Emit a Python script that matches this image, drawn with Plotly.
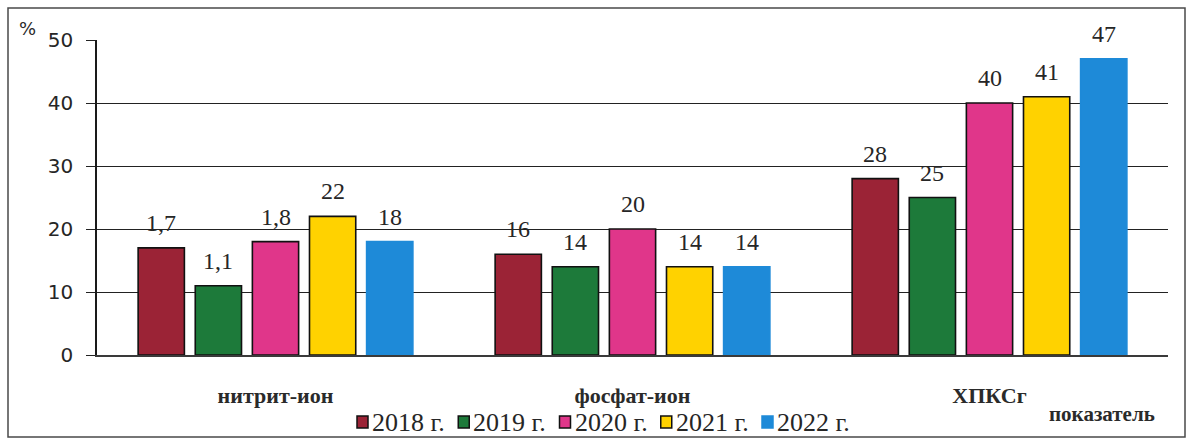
import plotly.graph_objects as go

# Indicators on the x axis and the years shown as bar series
categories = ["нитрит-ион", "фосфат-ион", "ХПКСг"]
years = ["2018 г.", "2019 г.", "2020 г.", "2021 г.", "2022 г."]

# Share of samples, % (one list per year, in category order)
v2018 = [17, 16, 28]
v2019 = [11, 14, 25]
v2020 = [18, 20, 40]
v2021 = [22, 14, 41]
v2022 = [18, 14, 47]

# Data labels as printed above the bars
t2018 = ["1,7", "16", "28"]
t2019 = ["1,1", "14", "25"]
t2020 = ["1,8", "20", "40"]
t2021 = ["22", "14", "41"]
t2022 = ["18", "14", "47"]

y_ticks = [0, 10, 20, 30, 40, 50]

series_values = [v2018, v2019, v2020, v2021, v2022]
series_texts = [t2018, t2019, t2020, t2021, t2022]
colors = ["#9b2336", "#1d7a3a", "#e0368a", "#ffd200", "#1e8ad8"]
edges = ["#111111", "#111111", "#111111", "#111111", "#1e8ad8"]

SERIF = "Liberation Serif, Times New Roman, serif"
SANS = "DejaVu Sans, Verdana, sans-serif"

# Plot-area geometry in pixels (used to place paper-referenced decorations)
W, H = 1189, 440
L, R, T, B = 97, 21, 40, 85
PW, PH = W - L - R, H - T - B


def px(x):
    return (x - L) / PW


def py(y):
    return (H - B - y) / PH


BARGAP = 0.2
BARGROUPGAP = 0.19
n = len(years)
slot = (1 - BARGAP) / n

fig = go.Figure()
for j, (name, vals) in enumerate(zip(years, series_values)):
    fig.add_trace(go.Bar(
        x=categories, y=vals, name=name,
        marker=dict(color=colors[j], line=dict(color=edges[j], width=1.6)),
        showlegend=False,
    ))

annotations = []
# value labels above each bar
for j, (vals, texts) in enumerate(zip(series_values, series_texts)):
    for i, (v, t) in enumerate(zip(vals, texts)):
        annotations.append(dict(
            x=i + (j - (n - 1) / 2) * slot, y=v, xref="x", yref="y",
            text=t, showarrow=False, yanchor="middle", yshift=25,
            font=dict(family=SERIF, size=24, color="#262626"),
        ))

# "%" unit mark next to the top tick
annotations.append(dict(
    x=px(27), y=py(29), xref="paper", yref="paper", text="%",
    showarrow=False, xanchor="center", yanchor="middle",
    font=dict(family=SANS, size=18, color="#2a2a2a"),
))

# axis caption at the lower right
annotations.append(dict(
    x=px(1102), y=py(414), xref="paper", yref="paper", text="<b>показатель</b>",
    showarrow=False, xanchor="center", yanchor="middle",
    font=dict(family=SERIF, size=21, color="#2a2a2a"),
))

# hand-drawn legend row: small square swatch followed by the year
shapes = []
leg_x0, leg_pitch, leg_y = 357, 101.25, 422
for j, name in enumerate(years):
    sx = leg_x0 + j * leg_pitch
    shapes.append(dict(
        type="rect", xref="paper", yref="paper",
        x0=px(sx), x1=px(sx + 11), y0=py(leg_y + 6), y1=py(leg_y - 6),
        fillcolor=colors[j], line=dict(color=edges[j] if j < 4 else colors[j], width=1.5),
    ))
    annotations.append(dict(
        x=px(sx + 13), y=py(leg_y), xref="paper", yref="paper", text=name,
        showarrow=False, xanchor="left", yanchor="middle",
        font=dict(family=SERIF, size=26, color="#262626"),
    ))

# outer frame around the whole chart
shapes.append(dict(
    type="rect", xref="paper", yref="paper",
    x0=px(8), x1=px(1185), y0=py(437), y1=py(8),
    line=dict(color="#4a4a4a", width=1.5), fillcolor="rgba(0,0,0,0)", layer="below",
))

fig.update_layout(
    width=W, height=H,
    margin=dict(l=L, r=R, t=T, b=B),
    paper_bgcolor="white", plot_bgcolor="white",
    barmode="group", bargap=BARGAP, bargroupgap=BARGROUPGAP,
    annotations=annotations, shapes=shapes,
    showlegend=False,
)
fig.update_xaxes(
    showgrid=False, showline=True, linecolor="#3a3a3a", linewidth=1.5,
    ticks="", ticklabelstandoff=20,
    tickfont=dict(family=SERIF, size=22, color="#2a2a2a"),
    tickprefix="<b>", ticksuffix="</b>",
)
fig.update_yaxes(
    range=[0, 50], tickvals=y_ticks,
    showgrid=True, gridcolor="#222222", gridwidth=1.4,
    showline=True, linecolor="#1a1a1a", linewidth=1.6,
    ticks="outside", ticklen=9, tickcolor="#222222", tickwidth=1.4,
    ticklabelstandoff=9, zeroline=False,
    tickfont=dict(family=SANS, size=20, color="#262626"),
)

fig.write_html("out.html")
